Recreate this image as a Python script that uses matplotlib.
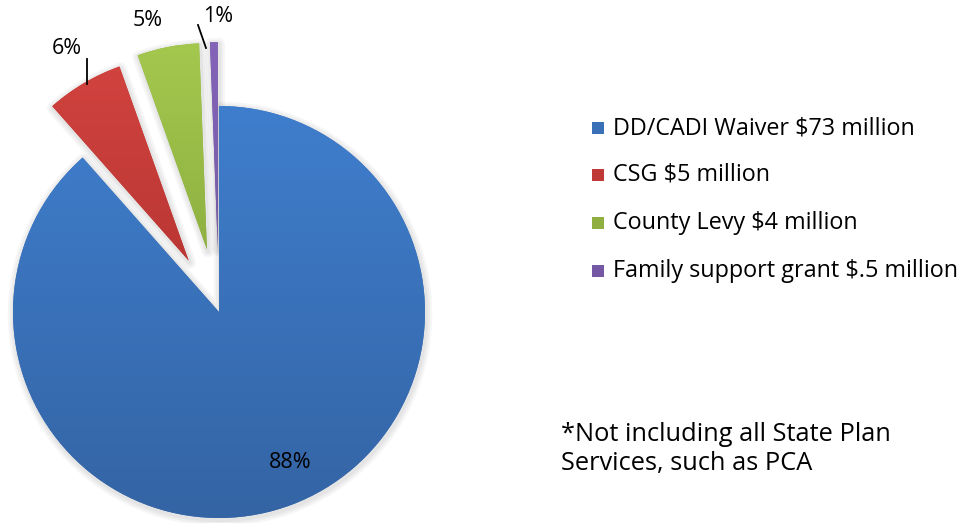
import numpy as np
import matplotlib
matplotlib.use("Agg")
import matplotlib.pyplot as plt
from matplotlib.patches import Wedge
from matplotlib.colors import LinearSegmentedColormap

plt.rcParams['font.family'] = ['Open Sans', 'DejaVu Sans']

labels = ['DD/CADI Waiver $73 million', 'CSG $5 million',
          'County Levy $4 million', 'Family support grant $.5 million']
values = [73, 5, 4, 0.5]
pct_labels = ['88%', '6%', '5%', '1%']
explode = [0, 0.29, 0.31, 0.31]
top_colors = ['#3f7ecd', '#d2433f', '#a4c84e', '#8464b8']
bottom_colors = ['#3464a4', '#a32b29', '#7a9934', '#684c96']
mid_colors = ['#3a70b8', '#bf3a37', '#8fb040', '#7458a6']
footnote = '*Not including all State Plan\nServices, such as PCA'

W, H = 966, 523
fig = plt.figure(figsize=(W / 100, H / 100), dpi=100)
ax = fig.add_axes([0, 0, 1, 1])

cx, cy, R = 219, H - 312, 206
wedges, _ = ax.pie(values, explode=[e * R for e in explode], startangle=90,
                   counterclock=False, center=(cx, cy), radius=R, frame=True,
                   colors=top_colors, wedgeprops=dict(linewidth=0))
ax.set_xlim(0, W)
ax.set_ylim(0, H)
ax.set_aspect('equal')
ax.axis('off')

# soft shadow under each slice, then a vertical gradient clipped to the wedge
grad = np.linspace(0, 1, 256).reshape(-1, 1)
for w, c0, c1 in zip(wedges, top_colors, bottom_colors):
    cxw, cyw = w.center
    for lw in (9, 6, 3):
        sh = Wedge((cxw + 1, cyw - 2), R, w.theta1, w.theta2, facecolor='none',
                   edgecolor='black', lw=lw, alpha=0.035, zorder=1,
                   joinstyle='round')
        ax.add_patch(sh)
    cmap = LinearSegmentedColormap.from_list('g', [c1, c0])
    im = ax.imshow(grad, cmap=cmap, origin='lower', aspect='auto',
                   extent=(cxw - R, cxw + R, cyw - R, cyw + R), zorder=2)
    im.set_clip_path(w)

# percentage labels with leader lines
ax.text(290, H - 463, pct_labels[0], fontsize=15.5, ha='center', va='center', zorder=5)
ax.text(67, H - 48, pct_labels[1], fontsize=15.5, ha='center', va='center')
ax.plot([87, 87], [H - 59, H - 84], color='black', lw=1.3, zorder=5)
ax.text(148, H - 21, pct_labels[2], fontsize=15.5, ha='center', va='center')
ax.text(218, H - 16, pct_labels[3], fontsize=15.5, ha='center', va='center')
ax.plot([198, 206], [H - 25, H - 48], color='black', lw=1.3, zorder=5)

# legend
rows = [128, 175, 223, 271]
for y, lab, c in zip(rows, labels, mid_colors):
    ax.add_patch(plt.Rectangle((592, H - y - 6), 12, 12, color=c, lw=0, zorder=3))
    ax.text(613, H - y, lab, fontsize=16.8, ha='left', va='center')

ax.text(561, H - 449, footnote, fontsize=18.3, ha='left', va='center',
        linespacing=1.22)

fig.savefig('out.png', dpi=100)
